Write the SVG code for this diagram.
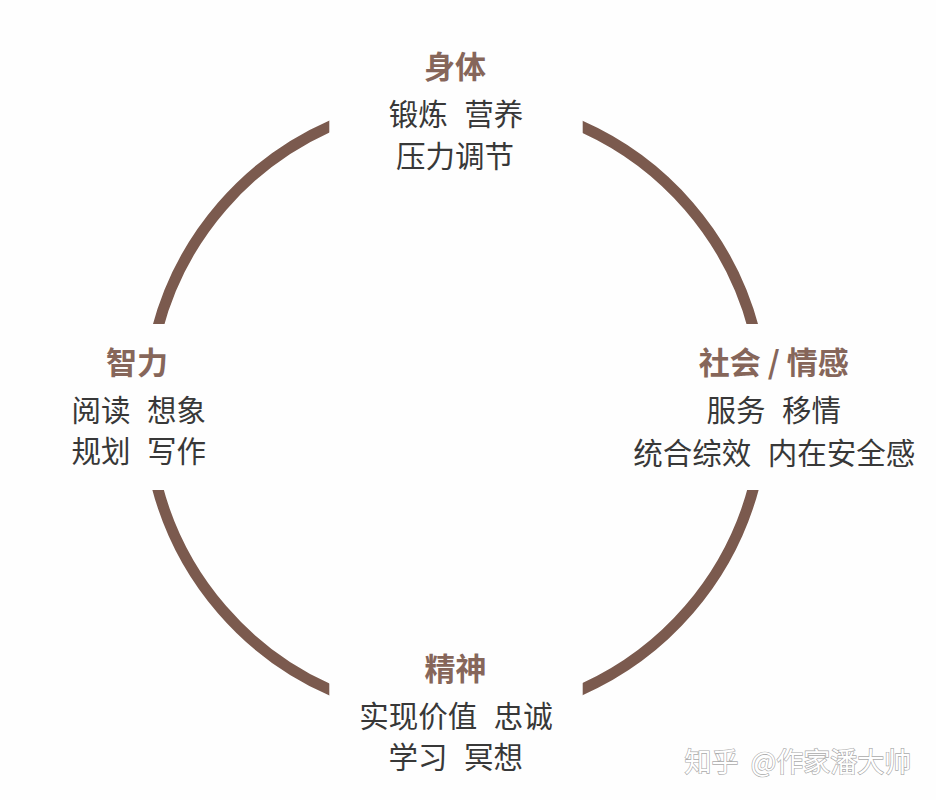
<svg xmlns="http://www.w3.org/2000/svg" width="936" height="800" viewBox="0 0 936 800">
  <style>
    .arc { fill: none; stroke: #7b5a4e; stroke-width: 11; }
    .title { font-family: "Noto Sans CJK SC", "Noto Sans", sans-serif; font-weight: 700; font-size: 31px; fill: #86665a; text-anchor: middle; }
    .body { font-family: "Noto Sans CJK SC", "Noto Sans", sans-serif; font-size: 29.5px; fill: #383838; text-anchor: middle; word-spacing: 10px; }
    .mark { font-family: "Noto Sans CJK SC", "Noto Sans", sans-serif; font-size: 27px; fill: #ffffff; stroke: #aaaaaa; stroke-width: 1.3px; paint-order: stroke; word-spacing: 6px; }
  </style>
  <defs>
    <clipPath id="gaps">
      <rect x="0" y="0" width="329.3" height="324"/>
      <rect x="582.7" y="0" width="353.3" height="324"/>
      <rect x="0" y="490" width="329.3" height="310"/>
      <rect x="582.7" y="490" width="353.3" height="310"/>
    </clipPath>
  </defs>
  <rect x="0" y="0" width="936" height="800" fill="#fefefe"/>

  <g id="connectors" clip-path="url(#gaps)">
    <path class="arc" d="M157,330 A308.5,308.5 0 0 1 335,124"/>
    <path class="arc" d="M576,124 A308.5,308.5 0 0 1 754,330"/>
    <path class="arc" d="M754,486 A308.5,308.5 0 0 1 576,692"/>
    <path class="arc" d="M335,692 A308.5,308.5 0 0 1 157,486"/>
  </g>

  <g id="node-body">
    <text class="title" x="455" y="78">身体</text>
    <text class="body" x="456" y="124.5">锻炼 营养</text>
    <text class="body" x="455" y="167">压力调节</text>
  </g>

  <g id="node-intellect">
    <text class="title" x="137" y="374">智力</text>
    <text class="body" x="138.7" y="421">阅读 想象</text>
    <text class="body" x="138.7" y="462">规划 写作</text>
  </g>

  <g id="node-social">
    <text class="title" x="773.7" y="374">社会 / 情感</text>
    <text class="body" x="773.7" y="421">服务 移情</text>
    <text class="body" x="774.3" y="463.5">统合综效 内在安全感</text>
  </g>

  <g id="node-spirit">
    <text class="title" x="455.6" y="680">精神</text>
    <text class="body" x="456" y="727">实现价值 忠诚</text>
    <text class="body" x="455.7" y="768">学习 冥想</text>
  </g>

  <g id="watermark">
    <text class="mark" x="684.6" y="772">知乎 @作家潘大帅</text>
  </g>
</svg>
